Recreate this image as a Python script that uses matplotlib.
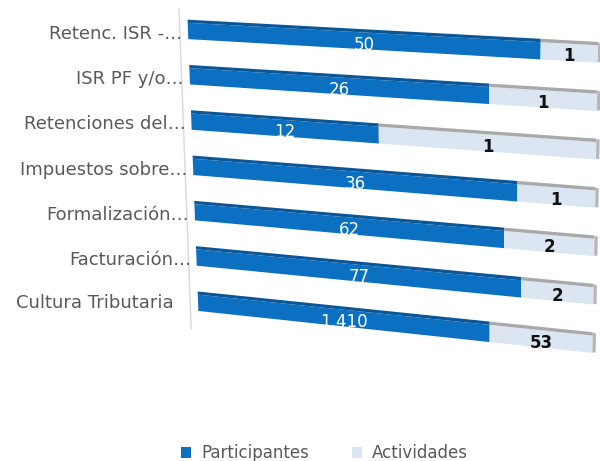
import numpy as np
import matplotlib
matplotlib.use("Agg")
import matplotlib.pyplot as plt
from matplotlib.transforms import Transform

categorias = ["Retenc. ISR -…", "ISR PF y/o…", "Retenciones del…", "Impuestos sobre…",
              "Formalización…", "Facturación…", "Cultura Tributaria"]
participantes = [50, 26, 12, 36, 62, 77, 1410]
actividades = [1, 1, 1, 1, 2, 2, 53]
# share of the bar length taken by Participantes, as drawn in the original
part_share = [0.86, 0.735, 0.463, 0.806, 0.774, 0.818, 0.739]

azul, azul_top = "#0b70c2", "#0a5697"
claro, claro_top = "#dce6f2", "#a9a9a9"
gris_txt = "#595959"


class Perspectiva(Transform):
    """warp (fraction, row) so the bars lean like the 3D original"""
    input_dims = output_dims = 2
    is_separable = False

    def transform_non_affine(self, values):
        values = np.asarray(values, dtype=float)
        x, y = values[:, 0], values[:, 1]
        xs = 0.0041 * y + x * (1 - 0.0063 * y)
        ys = y + x * (0.508 + 0.068 * y)
        return np.column_stack([xs, ys])


fig = plt.figure(figsize=(6.0, 4.61), dpi=100)
ax = fig.add_axes([0, 0, 1, 1])
ax.set_xlim(-0.4585, 1.0049)
ax.set_ylim(9.492, -0.684)
ax.axis("off")
tr = Perspectiva() + ax.transData

filas = np.arange(len(categorias))
part_share = np.array(part_share)
h, top = 0.36, 0.07

b1 = ax.barh(filas, part_share, height=h, color=azul, transform=tr, label="Participantes")
b2 = ax.barh(filas, 1 - part_share, left=part_share, height=h, color=claro, transform=tr,
             label="Actividades")
# top faces and right end cap
ax.barh(filas - h / 2 - top / 2, part_share, height=top, color=azul_top, transform=tr)
ax.barh(filas - h / 2 - top / 2, 1 - part_share, left=part_share, height=top,
        color=claro_top, transform=tr)
ax.barh(filas - top / 2, 0.008, left=1.0, height=h + top * 0.6, color="#b5b5b5", transform=tr)

# vertical axis line
ax.plot([-0.02, -0.02], [-0.46, 6.6], color="#d9d9d9", lw=1, transform=tr)

for i in filas:
    # the last label is not truncated and sits a little further left
    x_lab = -0.014 if categorias[i].endswith("…") else -0.063
    ax.text(x_lab, i + 0.07, categorias[i], ha="right", va="center", fontsize=13,
            color=gris_txt, transform=tr)
    ax.text(part_share[i] / 2, i + 0.08, f"{participantes[i]:,}", ha="center", va="center",
            fontsize=12, color="white", transform=tr)
    ax.text((1 + part_share[i]) / 2, i + 0.08, f"{actividades[i]:,}", ha="center",
            va="center", fontsize=12, color="#111111", fontweight="bold", transform=tr)

fig.legend(handles=[b1, b2], loc="lower center", bbox_to_anchor=(0.541, -0.035), ncol=2,
           frameon=False, fontsize=12, handlelength=0.6, handleheight=0.6,
           handletextpad=0.6, columnspacing=2.6, labelcolor=gris_txt)

plt.savefig("out.png", dpi=100)
